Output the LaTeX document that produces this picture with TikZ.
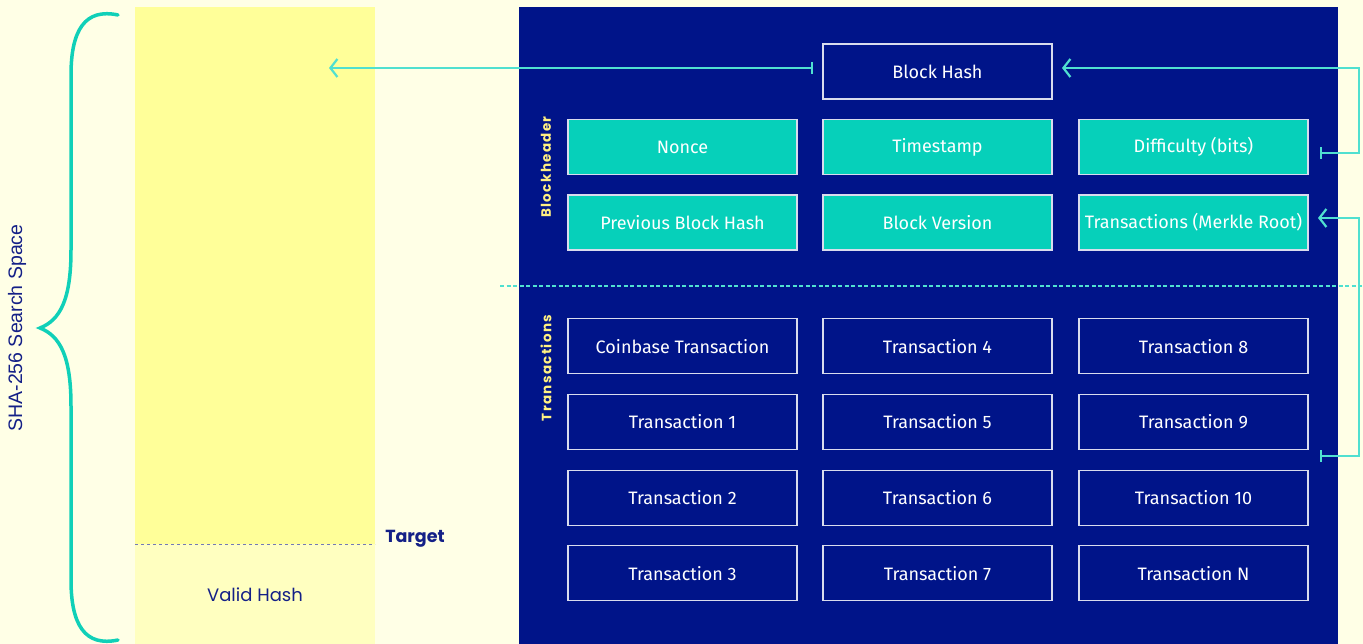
\documentclass[tikz,border=0pt]{standalone}
\usepackage{fontspec}
\setmainfont{Fira Sans}
\newfontfamily\popfont{Poppins}
\newfontfamily\sidefont{Liberation Sans}
\newfontfamily\tagfont[LetterSpace=10]{Poppins}
\usetikzlibrary{arrows.meta}
\definecolor{cream}{RGB}{255,255,230}
\definecolor{spaceyellow}{RGB}{255,255,153}
\definecolor{validyellow}{RGB}{255,255,192}
\definecolor{navy}{RGB}{0,20,137}
\definecolor{inknavy}{RGB}{20,32,135}
\definecolor{fieldteal}{RGB}{6,208,186}
\definecolor{linkteal}{RGB}{80,224,208}
\definecolor{braceteal}{RGB}{16,208,184}
\definecolor{tagyellow}{RGB}{255,240,130}

\begin{document}
\begin{tikzpicture}[x=1pt,y=-1pt,
                    hashbox/.style={draw=white!85!navy, line width=1.2pt,
                                    fill=navy, text=white, inner sep=0pt,
                                    minimum width=229pt, minimum height=55pt,
                                    font=\fontsize{18}{21}\selectfont},
                    fieldbox/.style={hashbox, fill=fieldteal},
                    link/.style={draw=linkteal, line width=2.2pt},
                    sidetag/.style={rotate=90, text=tagyellow,
                                    font=\tagfont\bfseries\fontsize{13.5}{15}\selectfont}
                    ]
  \useasboundingbox[fill=cream] (0,0) rectangle (1363,644);

  % search space column
  \fill[spaceyellow] (135,7) rectangle (375,544);
  \fill[validyellow] (135,544) rectangle (375,644);
  \draw[inknavy!60, dashed, line width=0.8pt] (135,544) -- (375,544);
  \node[text=inknavy, font=\popfont\bfseries\fontsize{17.5}{20}\selectfont] (target) at (415,539) {Target};
  \node[text=inknavy, font=\popfont\fontsize{18}{21}\selectfont] (valid) at (255,595) {Valid Hash};

  \draw[braceteal, line width=3.5pt, line cap=round]
    (118,15) .. controls (85,8) and (71,30) .. (71,75) -- (71,250)
    .. controls (71,300) and (60,320) .. (40,328)
    .. controls (60,336) and (71,356) .. (71,406) -- (71,580)
    .. controls (71,625) and (85,647) .. (118,640);
  \node[rotate=90, text=inknavy, font=\sidefont\fontsize{19.5}{22}\selectfont] (space) at (17,328) {SHA-256 Search Space};

  % block
  \fill[navy] (519,7) rectangle (1338,644);
  \draw[linkteal, dash pattern=on 4pt off 2.5pt, line width=1.2pt] (500,286) -- (1363,286);
  \node[sidetag] (headtag) at (546,167) {Blockheader};
  \node[sidetag] (txtag) at (546,368) {Transactions};

  \node[hashbox]  (bhash)   at (937.5,71.5) {Block Hash};
  \node[fieldbox] (nonce)   at (682.5,147) {Nonce};
  \node[fieldbox] (stamp)   at (937.5,147) {Timestamp};
  \node[fieldbox] (bits)    at (1193.5,147) {Difficulty (bits)};
  \node[fieldbox] (prev)    at (682.5,222.5) {Previous Block Hash};
  \node[fieldbox] (version) at (937.5,222.5) {Block Version};
  \node[fieldbox] (merkle)  at (1193.5,222.5) {Transactions (Merkle Root)};

  \foreach \txt [count=\r] in {Coinbase Transaction,Transaction 1,Transaction 2,Transaction 3}
    \node[hashbox] (txA\r) at (682.5,270.5+75.7*\r) {\txt};
  \foreach \txt [count=\r] in {Transaction 4,Transaction 5,Transaction 6,Transaction 7}
    \node[hashbox] (txB\r) at (937.5,270.5+75.7*\r) {\txt};
  \foreach \txt [count=\r] in {Transaction 8,Transaction 9,Transaction 10,Transaction N}
    \node[hashbox] (txC\r) at (1193.5,270.5+75.7*\r) {\txt};

  % links
  \coordinate (hashOut) at (813,68);
  \coordinate (spaceIn) at (329,68);
  \coordinate (hashIn) at (1062,68);
  \coordinate (bitsOut) at (1320,153);
  \coordinate (merkleIn) at (1318,218);
  \coordinate (txOut) at (1320,456);
  \draw[link, {Bar[width=12pt]}-{Straight Barb[length=7pt,width=18pt]}] (hashOut) -- (spaceIn);
  \draw[link, {Bar[width=12pt]}-{Straight Barb[length=7pt,width=18pt]}] (bitsOut) -- (1359,153) |- (hashIn);
  \draw[link, {Bar[width=12pt]}-{Straight Barb[length=7pt,width=18pt]}] (txOut) -- (1359,456) |- (merkleIn);
\end{tikzpicture}
\end{document}
